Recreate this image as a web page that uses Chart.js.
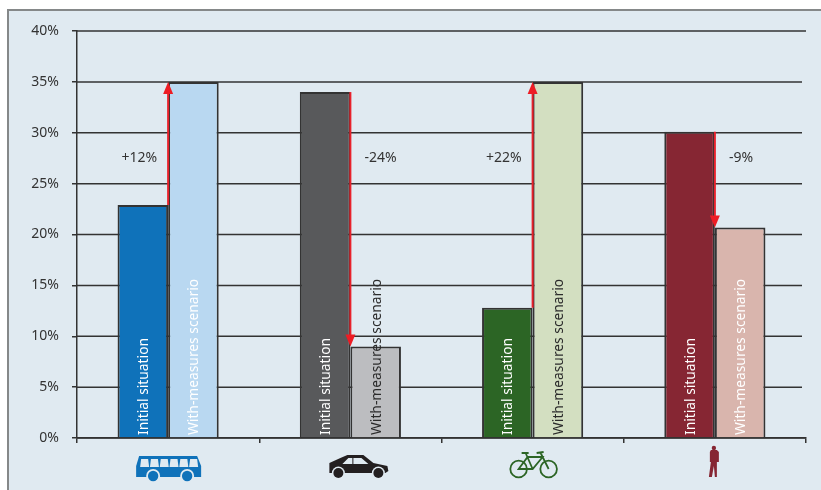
<!DOCTYPE html>
<html>
<head>
<meta charset="utf-8">
<style>
    html, body { margin: 0; padding: 0; background: #fff; overflow: hidden; }
    #panel { position: absolute; left: 7px; top: 9px; width: 814px; height: 481px; background: #e0eaf1; border-top: 2px solid #858889; border-left: 2px solid #858889; box-sizing: border-box; }
    #wrap { position: absolute; left: 0; top: 0; width: 821px; height: 490px; }
</style>
</head>
<body>
<div id="panel"></div>
<div id="wrap"><canvas id="chart" width="821" height="490"></canvas></div>
<script src="https://cdn.jsdelivr.net/npm/chart.js@4"></script>
<script>
/* global document, Chart */

let categories = ['Bus', 'Car', 'Bicycle', 'Pedestrian'];
let initialValues = [22.9, 34, 12.8, 30.1];
let measuresValues = [35, 9, 35, 20.7];
let changeLabels = ['+12%', '-24%', '+22%', '-9%'];
let yTicks = [0, 5, 10, 15, 20, 25, 30, 35, 40];

let initialColors = ['#0f72ba', '#58595b', '#2c6525', '#862633'];
let measuresColors = ['#b9d8f1', '#bcbdc0', '#d3dfc1', '#d9b5ad'];
let measuresTextColors = ['#ffffff', '#2b2b2b', '#2b2b2b', '#ffffff'];
let iconColors = ['#0f72ba', '#231f20', '#2c6525', '#862633'];

let fontName = '"Noto Sans", sans-serif';
let lineColor = '#333333';
let panelColor = '#e0eaf1';

// Icon shapes, local coordinates around the category centre
function drawBus(ctx, cx, top) {
    ctx.save();
    ctx.translate(cx, top);
    ctx.beginPath();
    ctx.moveTo(-29, 0);
    ctx.lineTo(29, 0);
    ctx.lineTo(33, 10);
    ctx.lineTo(33, 21);
    ctx.lineTo(-32, 21);
    ctx.lineTo(-32, 10);
    ctx.closePath();
    ctx.fill();
    ctx.fillStyle = panelColor;
    ctx.strokeStyle = panelColor;
    ctx.lineWidth = 1.5;
    // slanted windows
    for (let i = 0; i < 6; i++) {
        let x = -28 + i * 9.8;
        ctx.beginPath();
        ctx.moveTo(x + 1, 3);
        ctx.lineTo(x + 8, 3);
        ctx.lineTo(x + 9, 11);
        ctx.lineTo(x, 11);
        ctx.closePath();
        ctx.fill();
    }
    ctx.beginPath();
    ctx.arc(-15, 20, 7, 0, Math.PI * 2);
    ctx.fill();
    ctx.beginPath();
    ctx.arc(19, 20, 7, 0, Math.PI * 2);
    ctx.fill();
    ctx.fillStyle = iconColors[0];
    ctx.beginPath();
    ctx.arc(-15, 20, 5.2, 0, Math.PI * 2);
    ctx.fill();
    ctx.beginPath();
    ctx.arc(19, 20, 5.2, 0, Math.PI * 2);
    ctx.fill();
    ctx.restore();
}

function drawCar(ctx, cx, top) {
    ctx.save();
    ctx.translate(cx, top);
    ctx.beginPath();
    ctx.moveTo(-29, 8);
    ctx.lineTo(-18, 3);
    ctx.lineTo(-11, 0);
    ctx.lineTo(5, 0);
    ctx.lineTo(15, 8);
    ctx.lineTo(29, 11);
    ctx.lineTo(30, 16);
    ctx.lineTo(27, 18);
    ctx.lineTo(-29, 18);
    ctx.closePath();
    ctx.fill();
    ctx.fillStyle = panelColor;
    ctx.beginPath();
    ctx.moveTo(-16, 9);
    ctx.lineTo(-10, 3);
    ctx.lineTo(-6, 3);
    ctx.lineTo(-6, 9);
    ctx.closePath();
    ctx.moveTo(-5, 3);
    ctx.lineTo(3, 3);
    ctx.lineTo(10, 9);
    ctx.lineTo(-5, 9);
    ctx.closePath();
    ctx.fill();
    ctx.beginPath();
    ctx.arc(-20, 18, 6.5, 0, Math.PI * 2);
    ctx.fill();
    ctx.beginPath();
    ctx.arc(20, 18, 6.5, 0, Math.PI * 2);
    ctx.fill();
    ctx.fillStyle = iconColors[1];
    ctx.beginPath();
    ctx.arc(-20, 18, 5, 0, Math.PI * 2);
    ctx.fill();
    ctx.beginPath();
    ctx.arc(20, 18, 5, 0, Math.PI * 2);
    ctx.fill();
    ctx.restore();
}

function drawBike(ctx, cx, top) {
    ctx.save();
    ctx.translate(cx, top);
    ctx.lineWidth = 1.8;
    ctx.beginPath();
    ctx.arc(-15, 17, 8.3, 0, Math.PI * 2);
    ctx.moveTo(23.3, 17);
    ctx.arc(15, 17, 8.3, 0, Math.PI * 2);
    ctx.stroke();
    ctx.beginPath();
    ctx.moveTo(-15, 17);
    ctx.lineTo(-6, 5);
    ctx.lineTo(9, 5);
    ctx.lineTo(-1, 17);
    ctx.closePath();
    ctx.moveTo(-8, 1);
    ctx.lineTo(-1, 17);
    ctx.moveTo(7, 1);
    ctx.lineTo(15, 17);
    ctx.moveTo(-12, 1);
    ctx.lineTo(-5, 1);
    ctx.moveTo(3, 1);
    ctx.lineTo(10, 0);
    ctx.stroke();
    ctx.restore();
}

function drawPerson(ctx, cx, top) {
    ctx.save();
    ctx.translate(cx, top);
    ctx.beginPath();
    ctx.arc(0, 2, 2.2, 0, Math.PI * 2);
    ctx.fill();
    ctx.beginPath();
    ctx.moveTo(-3, 4);
    ctx.lineTo(3, 4);
    ctx.lineTo(5, 6);
    ctx.lineTo(5, 16);
    ctx.lineTo(3, 16);
    ctx.lineTo(3, 31);
    ctx.lineTo(1, 31);
    ctx.lineTo(0, 20);
    ctx.lineTo(-2, 31);
    ctx.lineTo(-5, 31);
    ctx.lineTo(-3, 16);
    ctx.lineTo(-4, 16);
    ctx.lineTo(-4, 6);
    ctx.closePath();
    ctx.fill();
    ctx.restore();
}

let iconDrawers = [drawBus, drawCar, drawBike, drawPerson];
let iconOffsets = [[0, 456], [8, 455], [1, 452], [-1, 446]];

// Horizontal grid lines, they stop a little short of the axis end
let gridPlugin = {
    id: 'gridLines',
    beforeDatasetsDraw(chart) {
        let ctx = chart.ctx;
        let area = chart.chartArea;
        let y = chart.scales.y;
        ctx.save();
        ctx.strokeStyle = lineColor;
        ctx.lineWidth = 1.5;
        yTicks.forEach(v => {
            let py = y.getPixelForValue(v);
            let end = (v === 0 || v === 40) ? area.right : area.right - 4;
            ctx.beginPath();
            ctx.moveTo(area.left, py);
            ctx.lineTo(end, py);
            ctx.stroke();
        });
        ctx.restore();
    }
};

// Labels inside the bars, red arrows, percentages and icons
let annotationPlugin = {
    id: 'annotations',
    afterDatasetsDraw(chart) {
        let ctx = chart.ctx;
        let yScale = chart.scales.y;
        let xScale = chart.scales.x;
        let baseY = yScale.getPixelForValue(0);
        let firstBars = chart.getDatasetMeta(0).data;
        let secondBars = chart.getDatasetMeta(1).data;

        ctx.save();
        ctx.textBaseline = 'middle';

        categories.forEach((name, i) => {
            ctx.font = '13.8px ' + fontName;
            drawBarText(ctx, chart.data.datasets[0].label, firstBars[i].x, baseY, '#ffffff');
            drawBarText(ctx, chart.data.datasets[1].label, secondBars[i].x, baseY, measuresTextColors[i]);

            let arrowX = (firstBars[i].x + secondBars[i].x) / 2;
            let fromY = yScale.getPixelForValue(initialValues[i]);
            let toY = yScale.getPixelForValue(measuresValues[i]);
            drawArrow(ctx, arrowX, fromY, toY);

            let rising = measuresValues[i] > initialValues[i];
            ctx.font = '14px ' + fontName;
            ctx.fillStyle = '#333333';
            ctx.textAlign = rising ? 'right' : 'left';
            ctx.fillText(changeLabels[i], arrowX + (rising ? -11 : 14), yScale.getPixelForValue(27.5));

            ctx.fillStyle = iconColors[i];
            ctx.strokeStyle = iconColors[i];
            let offset = iconOffsets[i];
            iconDrawers[i](ctx, xScale.getPixelForValue(i) + offset[0], offset[1]);
        });
        ctx.restore();
    }
};

function drawBarText(ctx, text, x, baseY, color) {
    ctx.save();
    ctx.translate(x + 1, baseY - 3);
    ctx.rotate(-Math.PI / 2);
    ctx.textAlign = 'left';
    ctx.fillStyle = color;
    ctx.fillText(text, 0, 0);
    ctx.restore();
}

function drawArrow(ctx, x, fromY, toY) {
    let dir = toY < fromY ? 1 : -1;
    ctx.save();
    ctx.strokeStyle = '#e8212b';
    ctx.fillStyle = '#ed1c24';
    ctx.lineWidth = 2;
    ctx.beginPath();
    ctx.moveTo(x, fromY);
    ctx.lineTo(x, toY + dir * 8);
    ctx.stroke();
    ctx.beginPath();
    ctx.moveTo(x, toY);
    ctx.lineTo(x - 5, toY + dir * 12);
    ctx.lineTo(x + 5, toY + dir * 12);
    ctx.closePath();
    ctx.fill();
    ctx.restore();
}

new Chart(document.getElementById('chart'), {
    type: 'bar',
    data: {
        labels: categories,
        datasets: [
            {
                label: 'Initial situation',
                data: initialValues,
                backgroundColor: initialColors,
                borderColor: lineColor,
                borderWidth: 2,
                categoryPercentage: 0.555,
                barPercentage: 1
            },
            {
                label: 'With-measures scenario',
                data: measuresValues,
                backgroundColor: measuresColors,
                borderColor: lineColor,
                borderWidth: 2,
                categoryPercentage: 0.555,
                barPercentage: 1
            }
        ]
    },
    options: {
        responsive: false,
        animation: false,
        layout: { padding: { top: 31, right: 15, left: 0, bottom: 0 } },
        plugins: { legend: { display: false }, tooltip: { enabled: false } },
        scales: {
            x: {
                afterFit: scale => { scale.height = 52; },
                ticks: { display: false },
                border: { color: lineColor, width: 1.5 },
                grid: { drawOnChartArea: false, color: lineColor, lineWidth: 1.5, tickLength: 5, offset: true }
            },
            y: {
                min: 0,
                max: 40,
                afterFit: scale => { scale.width = 77; },
                afterBuildTicks: scale => { scale.ticks = yTicks.map(v => ({ value: v })); },
                ticks: {
                    callback: v => v + '%',
                    color: '#333333',
                    padding: 13,
                    font: { family: fontName, size: 14 }
                },
                border: { color: lineColor, width: 1.5 },
                grid: { drawOnChartArea: false, color: lineColor, lineWidth: 1.5, tickLength: 5 }
            }
        }
    },
    plugins: [gridPlugin, annotationPlugin]
});
</script>
</body>
</html>
